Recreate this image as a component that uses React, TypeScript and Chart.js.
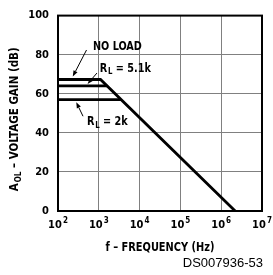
import React, { useEffect, useRef } from "react";
import { Chart, registerables } from "chart.js";
Chart.register(...registerables);

// ---- data ----
const xTicks = [1e2, 1e3, 1e4, 1e5, 1e6, 1e7];
const xTickExponents = ["2", "3", "4", "5", "6", "7"];
const yTicks = [0, 20, 40, 60, 80, 100];

const noLoadFreq = [100, 1100, 2.2e6];
const noLoadGain = [67.3, 67.3, 0];
const rl51Freq = [100, 1600];
const rl51Gain = [64, 64];
const rl2Freq = [100, 3500];
const rl2Gain = [57, 57];

// annotation labels: [text, subscript, rest], anchored in data coords
const labelParts = [
  ["NO LOAD", "", ""],
  ["R", "L", " = 5.1k"],
  ["R", "L", " = 2k"],
];
const labelFreq = [720, 1050, 514];
const labelGain = [84.3, 73.0, 45.5];
// arrows: tail -> head in data coords
const arrowTailFreq = [500, 900, 410];
const arrowTailGain = [82.4, 70.6, 48.5];
const arrowHeadFreq = [230, 530, 280];
const arrowHeadGain = [68.8, 65.0, 55.7];

const BOLD = '"Liberation Sans Narrow", "DejaVu Sans Condensed", Arial, sans-serif';

function drawRich(ctx: CanvasRenderingContext2D, parts: string[], x: number, y: number, size: number, align: string, k: number) {
  const [a, sub, b] = parts;
  const subSize = Math.round(size * 0.7);
  ctx.font = `bold ${size}px ${BOLD}`;
  const wa = ctx.measureText(a).width;
  const wb = ctx.measureText(b).width;
  ctx.font = `bold ${subSize}px ${BOLD}`;
  const ws = sub ? ctx.measureText(sub).width + 1 : 0;
  const total = (wa + ws + wb) * k;
  let sx = x;
  if (align === "center") sx = x - total / 2;
  else if (align === "right") sx = x - total;
  ctx.save();
  ctx.translate(sx, y);
  ctx.scale(k, 1);
  ctx.textAlign = "left";
  ctx.textBaseline = "middle";
  ctx.font = `bold ${size}px ${BOLD}`;
  ctx.fillText(a, 0, 0);
  if (sub) {
    ctx.font = `bold ${subSize}px ${BOLD}`;
    ctx.fillText(sub, wa + 1, size * 0.3);
  }
  ctx.font = `bold ${size}px ${BOLD}`;
  ctx.fillText(b, wa + ws, 0);
  ctx.restore();
}

const decorPlugin = {
  id: "decor",
  afterDraw(chart: any) {
    const { ctx, chartArea, scales } = chart;
    const xs = scales.x, ys = scales.y;
    ctx.save();
    // frame
    ctx.strokeStyle = "#000";
    ctx.lineWidth = 2;
    ctx.strokeRect(chartArea.left, chartArea.top, chartArea.right - chartArea.left, chartArea.bottom - chartArea.top);
    ctx.fillStyle = "#000";
    // x tick labels with superscripts
    xTicks.forEach((v, i) => {
      const px = xs.getPixelForValue(v);
      const py = chartArea.bottom + 14;
      ctx.font = `bold 11px ${BOLD}`;
      const w = ctx.measureText("10").width;
      ctx.font = `bold 8px ${BOLD}`;
      const we = ctx.measureText(xTickExponents[i]).width;
      const sx = px - (w + we + 1) / 2;
      ctx.textAlign = "left";
      ctx.textBaseline = "middle";
      ctx.font = `bold 11px ${BOLD}`;
      ctx.fillText("10", sx, py);
      ctx.font = `bold 8px ${BOLD}`;
      ctx.fillText(xTickExponents[i], sx + w + 1, py - 4);
    });
    // annotation labels
    labelParts.forEach((p, i) => {
      drawRich(ctx, p, xs.getPixelForValue(labelFreq[i]), ys.getPixelForValue(labelGain[i]), 12.5, "left", 0.86);
    });
    // arrows
    ctx.lineWidth = 1;
    arrowTailFreq.forEach((f, i) => {
      const x1 = xs.getPixelForValue(f), y1 = ys.getPixelForValue(arrowTailGain[i]);
      const x2 = xs.getPixelForValue(arrowHeadFreq[i]), y2 = ys.getPixelForValue(arrowHeadGain[i]);
      const ang = Math.atan2(y2 - y1, x2 - x1);
      const hl = 6, hw = 2.2;
      const bx = x2 - hl * Math.cos(ang), by = y2 - hl * Math.sin(ang);
      ctx.beginPath();
      ctx.moveTo(x1, y1);
      ctx.lineTo(bx, by);
      ctx.stroke();
      ctx.beginPath();
      ctx.moveTo(x2, y2);
      ctx.lineTo(bx + hw * Math.sin(ang), by - hw * Math.cos(ang));
      ctx.lineTo(bx - hw * Math.sin(ang), by + hw * Math.cos(ang));
      ctx.closePath();
      ctx.fill();
    });
    // x title
    drawRich(ctx, ["f \u2013 FREQUENCY (Hz)", "", ""], (chartArea.left + chartArea.right) / 2, chartArea.bottom + 37, 11.5, "center", 0.95);
    // figure id
    ctx.font = `13px "Liberation Sans", Arial, sans-serif`;
    ctx.textAlign = "right";
    ctx.textBaseline = "middle";
    ctx.fillText("DS007936-53", chartArea.right + 1, chartArea.bottom + 52);
    // y title
    ctx.translate(15, (chartArea.top + chartArea.bottom) / 2 + 6);
    ctx.rotate(-Math.PI / 2);
    drawRich(ctx, ["A", "OL", " \u2013 VOLTAGE GAIN (dB)"], 0, 0, 11.5, "center", 1.0);
    ctx.restore();
  },
};

export default function App() {
  const ref = useRef<HTMLCanvasElement>(null);
  useEffect(() => {
    const toPts = (fx: number[], gy: number[]) => fx.map((f, i) => ({ x: f, y: gy[i] }));
    const line = (label: string, data: any) => ({
      label,
      data,
      borderColor: "#000",
      borderWidth: 2.8,
      pointRadius: 0,
      fill: false,
      tension: 0,
      borderJoinStyle: "miter" as const,
    });
    const chart = new Chart(ref.current!, {
      type: "line",
      data: {
        datasets: [
          line("NO LOAD", toPts(noLoadFreq, noLoadGain)),
          line("RL = 5.1k", toPts(rl51Freq, rl51Gain)),
          line("RL = 2k", toPts(rl2Freq, rl2Gain)),
        ],
      },
      options: {
        animation: false,
        responsive: false,
        layout: { padding: { left: 0, right: 11, top: 7, bottom: 0 } },
        plugins: { legend: { display: false }, tooltip: { enabled: false } },
        scales: {
          x: {
            type: "logarithmic",
            min: 1e2,
            max: 1e7,
            afterBuildTicks: (s: any) => { s.ticks = xTicks.map((v) => ({ value: v })); },
            afterFit: (s: any) => { s.height = 64; },
            ticks: { display: false },
            grid: { color: "#808080", lineWidth: 1, drawTicks: false },
            border: { display: false },
          },
          y: {
            min: 0,
            max: 100,
            afterBuildTicks: (s: any) => { s.ticks = yTicks.map((v) => ({ value: v })); },
            afterFit: (s: any) => { s.width = 58; },
            ticks: { color: "#000", padding: 9, font: { family: BOLD, weight: "bold", size: 11 } },
            grid: { color: "#808080", lineWidth: 1, drawTicks: false },
            border: { display: false },
          },
        },
      },
      plugins: [decorPlugin],
    });
    return () => chart.destroy();
  }, []);
  return (
    <div style={{ position: "fixed", left: 0, top: 0, width: 273, height: 275, background: "#fff" }}>
      <canvas ref={ref} width={273} height={275} style={{ width: 273, height: 275 }} />
    </div>
  );
}
